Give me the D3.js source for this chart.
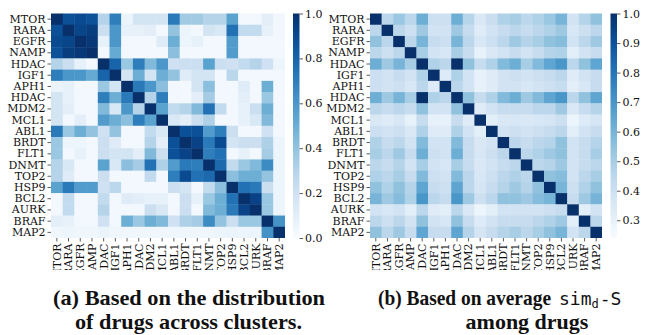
<!DOCTYPE html>
<html>
<head>
<meta charset="utf-8">
<script src="https://cdn.jsdelivr.net/npm/d3@7/dist/d3.min.js"></script>
<style>
  body { margin: 0; background: #fff; }
  svg { display: block; }
</style>
</head>
<body>
<div id="chart"></div>
<script>
// drug labels (same for rows and columns)
const drugs = ["MTOR", "RARA", "EGFR", "NAMP", "HDAC", "IGF1", "APH1", "HDAC", "MDM2", "MCL1",
  "ABL1", "BRDT", "FLT1", "DNMT", "TOP2", "HSP9", "BCL2", "AURK", "BRAF", "MAP2"];

// (a) distribution of drugs across clusters
const clusterSim = [
  [1.00, 0.88, 0.90, 0.87, 0.30, 0.70, 0.06, 0.18, 0.18, 0.18, 0.72, 0.36, 0.36, 0.30, 0.30, 0.55, 0.02, 0.02, 0.10, 0.03],
  [0.88, 1.00, 0.92, 0.95, 0.22, 0.60, 0.08, 0.08, 0.10, 0.02, 0.40, 0.05, 0.02, 0.18, 0.15, 0.75, 0.25, 0.25, 0.08, 0.03],
  [0.90, 0.92, 1.00, 0.97, 0.08, 0.60, 0.02, 0.02, 0.02, 0.12, 0.50, 0.05, 0.08, 0.02, 0.02, 0.58, 0.02, 0.02, 0.02, 0.02],
  [0.87, 0.95, 0.97, 1.00, 0.02, 0.52, 0.02, 0.02, 0.02, 0.02, 0.42, 0.02, 0.02, 0.02, 0.02, 0.58, 0.02, 0.02, 0.02, 0.02],
  [0.30, 0.22, 0.08, 0.02, 1.00, 0.80, 0.38, 0.70, 0.45, 0.60, 0.20, 0.22, 0.22, 0.55, 0.22, 0.20, 0.25, 0.30, 0.20, 0.05],
  [0.70, 0.60, 0.60, 0.52, 0.80, 1.00, 0.18, 0.50, 0.18, 0.50, 0.40, 0.12, 0.18, 0.18, 0.02, 0.28, 0.02, 0.02, 0.02, 0.02],
  [0.06, 0.08, 0.02, 0.02, 0.38, 0.18, 1.00, 0.72, 0.60, 0.42, 0.02, 0.02, 0.18, 0.42, 0.02, 0.02, 0.12, 0.02, 0.50, 0.02],
  [0.18, 0.08, 0.02, 0.02, 0.70, 0.50, 0.72, 1.00, 0.30, 0.70, 0.02, 0.02, 0.10, 0.35, 0.02, 0.02, 0.10, 0.02, 0.38, 0.02],
  [0.18, 0.10, 0.02, 0.02, 0.45, 0.15, 0.60, 0.30, 1.00, 0.55, 0.25, 0.30, 0.45, 0.75, 0.25, 0.02, 0.08, 0.22, 0.50, 0.02],
  [0.18, 0.02, 0.10, 0.02, 0.58, 0.50, 0.42, 0.70, 0.55, 1.00, 0.15, 0.10, 0.22, 0.32, 0.02, 0.02, 0.08, 0.15, 0.45, 0.02],
  [0.72, 0.38, 0.50, 0.40, 0.20, 0.40, 0.02, 0.02, 0.25, 0.15, 1.00, 0.88, 0.88, 0.58, 0.70, 0.22, 0.02, 0.02, 0.20, 0.02],
  [0.38, 0.05, 0.05, 0.02, 0.22, 0.12, 0.02, 0.02, 0.30, 0.10, 0.88, 1.00, 0.93, 0.72, 0.90, 0.18, 0.22, 0.22, 0.32, 0.05],
  [0.38, 0.02, 0.08, 0.02, 0.22, 0.18, 0.18, 0.10, 0.45, 0.22, 0.88, 0.93, 1.00, 0.70, 0.75, 0.02, 0.08, 0.02, 0.35, 0.05],
  [0.30, 0.15, 0.02, 0.02, 0.55, 0.15, 0.42, 0.35, 0.75, 0.32, 0.58, 0.72, 0.70, 1.00, 0.78, 0.25, 0.38, 0.45, 0.65, 0.05],
  [0.30, 0.12, 0.02, 0.02, 0.22, 0.02, 0.02, 0.02, 0.25, 0.02, 0.70, 0.90, 0.75, 0.78, 1.00, 0.42, 0.50, 0.50, 0.40, 0.05],
  [0.55, 0.72, 0.58, 0.58, 0.20, 0.28, 0.02, 0.02, 0.02, 0.02, 0.22, 0.18, 0.02, 0.25, 0.42, 1.00, 0.75, 0.72, 0.22, 0.05],
  [0.02, 0.25, 0.02, 0.02, 0.25, 0.02, 0.12, 0.10, 0.08, 0.08, 0.02, 0.22, 0.08, 0.38, 0.50, 0.75, 1.00, 0.93, 0.38, 0.05],
  [0.02, 0.25, 0.02, 0.02, 0.30, 0.02, 0.02, 0.02, 0.22, 0.15, 0.02, 0.22, 0.02, 0.45, 0.50, 0.72, 0.93, 1.00, 0.38, 0.05],
  [0.10, 0.08, 0.02, 0.02, 0.20, 0.02, 0.50, 0.38, 0.50, 0.45, 0.20, 0.32, 0.35, 0.65, 0.40, 0.22, 0.38, 0.38, 1.00, 0.62],
  [0.04, 0.05, 0.04, 0.04, 0.06, 0.04, 0.04, 0.04, 0.04, 0.04, 0.04, 0.04, 0.04, 0.04, 0.05, 0.06, 0.05, 0.05, 0.62, 1.00]
];

// (b) average sim_d-S among drugs
const avgSim = [
  [1.00, 0.45, 0.53, 0.45, 0.62, 0.40, 0.40, 0.62, 0.46, 0.35, 0.41, 0.48, 0.50, 0.45, 0.48, 0.53, 0.60, 0.38, 0.47, 0.55],
  [0.45, 1.00, 0.45, 0.40, 0.52, 0.38, 0.38, 0.52, 0.42, 0.33, 0.38, 0.42, 0.45, 0.42, 0.45, 0.48, 0.52, 0.36, 0.40, 0.45],
  [0.55, 0.45, 1.00, 0.45, 0.60, 0.42, 0.40, 0.60, 0.45, 0.36, 0.40, 0.45, 0.52, 0.47, 0.50, 0.55, 0.57, 0.38, 0.45, 0.52],
  [0.45, 0.40, 0.45, 1.00, 0.50, 0.38, 0.36, 0.50, 0.42, 0.30, 0.35, 0.38, 0.42, 0.38, 0.42, 0.47, 0.48, 0.32, 0.38, 0.42],
  [0.62, 0.52, 0.60, 0.50, 1.00, 0.48, 0.45, 1.00, 0.55, 0.42, 0.48, 0.58, 0.62, 0.50, 0.58, 0.65, 0.70, 0.45, 0.55, 0.65],
  [0.40, 0.38, 0.42, 0.38, 0.48, 1.00, 0.34, 0.48, 0.38, 0.30, 0.33, 0.38, 0.40, 0.38, 0.40, 0.42, 0.45, 0.33, 0.38, 0.42],
  [0.40, 0.38, 0.40, 0.36, 0.45, 0.34, 1.00, 0.45, 0.38, 0.30, 0.33, 0.38, 0.38, 0.36, 0.38, 0.40, 0.42, 0.32, 0.36, 0.42],
  [0.62, 0.52, 0.60, 0.50, 1.00, 0.48, 0.45, 1.00, 0.55, 0.42, 0.48, 0.58, 0.62, 0.52, 0.58, 0.65, 0.70, 0.45, 0.55, 0.65],
  [0.45, 0.42, 0.45, 0.42, 0.55, 0.38, 0.38, 0.55, 1.00, 0.33, 0.38, 0.42, 0.42, 0.42, 0.45, 0.45, 0.52, 0.35, 0.42, 0.47],
  [0.35, 0.33, 0.36, 0.30, 0.42, 0.30, 0.30, 0.42, 0.33, 1.00, 0.32, 0.35, 0.36, 0.35, 0.36, 0.37, 0.40, 0.28, 0.34, 0.37],
  [0.40, 0.38, 0.40, 0.35, 0.48, 0.33, 0.33, 0.48, 0.38, 0.32, 1.00, 0.38, 0.40, 0.38, 0.40, 0.42, 0.45, 0.32, 0.38, 0.42],
  [0.48, 0.42, 0.45, 0.38, 0.58, 0.38, 0.38, 0.58, 0.42, 0.35, 0.38, 1.00, 0.45, 0.42, 0.45, 0.47, 0.55, 0.38, 0.42, 0.47],
  [0.50, 0.45, 0.52, 0.42, 0.62, 0.40, 0.38, 0.62, 0.42, 0.36, 0.40, 0.45, 1.00, 0.45, 0.48, 0.52, 0.55, 0.38, 0.42, 0.50],
  [0.45, 0.42, 0.47, 0.38, 0.50, 0.38, 0.36, 0.50, 0.42, 0.35, 0.38, 0.42, 0.45, 1.00, 0.45, 0.47, 0.52, 0.38, 0.42, 0.45],
  [0.48, 0.45, 0.50, 0.42, 0.58, 0.40, 0.38, 0.58, 0.45, 0.36, 0.40, 0.45, 0.48, 0.45, 1.00, 0.55, 0.57, 0.38, 0.45, 0.50],
  [0.55, 0.48, 0.55, 0.47, 0.65, 0.42, 0.40, 0.65, 0.45, 0.37, 0.42, 0.47, 0.52, 0.47, 0.55, 1.00, 0.60, 0.40, 0.48, 0.55],
  [0.60, 0.52, 0.57, 0.48, 0.70, 0.45, 0.42, 0.70, 0.52, 0.40, 0.45, 0.55, 0.55, 0.52, 0.57, 0.60, 1.00, 0.42, 0.52, 0.60],
  [0.38, 0.36, 0.38, 0.32, 0.45, 0.33, 0.32, 0.45, 0.35, 0.28, 0.32, 0.38, 0.38, 0.38, 0.38, 0.40, 0.42, 1.00, 0.32, 0.38],
  [0.45, 0.40, 0.45, 0.38, 0.55, 0.38, 0.36, 0.55, 0.42, 0.34, 0.38, 0.42, 0.42, 0.42, 0.45, 0.48, 0.52, 0.32, 1.00, 0.45],
  [0.55, 0.45, 0.52, 0.42, 0.65, 0.42, 0.42, 0.65, 0.47, 0.37, 0.42, 0.47, 0.50, 0.45, 0.50, 0.55, 0.60, 0.38, 0.45, 1.00]
];

const clusterTicks = [0.0, 0.2, 0.4, 0.6, 0.8, 1.0];
const avgTicks = [0.3, 0.4, 0.5, 0.6, 0.7, 0.8, 0.9, 1.0];

const width = 645, height = 335;
const labelFont = "'DejaVu Serif', serif";

const svg = d3.select("#chart").append("svg")
  .attr("width", width)
  .attr("height", height)
  .attr("xmlns", "http://www.w3.org/2000/svg");

const defs = svg.append("defs");

// draw one heatmap + colorbar
function drawPanel(id, values, box, domain, ticks, cbar) {
  const idx = d3.range(drugs.length);
  const x = d3.scaleBand().domain(idx).range([box.x0, box.x1]);
  const y = d3.scaleBand().domain(idx).range([box.y0, box.y1]);
  const color = d3.scaleSequential(d3.interpolateBlues).domain(domain).clamp(true);

  const g = svg.append("g");

  const cells = [];
  values.forEach((row, i) => row.forEach((v, j) => cells.push({ i, j, v })));

  g.selectAll("rect.cell")
    .data(cells)
    .enter().append("rect")
    .attr("class", "cell")
    .attr("x", d => x(d.j))
    .attr("y", d => y(d.i))
    .attr("width", d => x.bandwidth() + (d.j < drugs.length - 1 ? 0.4 : 0))
    .attr("height", d => y.bandwidth() + (d.i < drugs.length - 1 ? 0.4 : 0))
    .attr("fill", d => color(d.v));

  // y axis
  const yAxis = g.append("g")
    .attr("transform", `translate(${box.x0},0)`)
    .call(d3.axisLeft(y).tickSize(3.5).tickPadding(2).tickFormat(i => drugs[i]));
  yAxis.select(".domain").remove();
  yAxis.selectAll("text").style("font-family", labelFont).style("font-size", "11px").attr("fill", "#111");
  yAxis.selectAll("line").attr("stroke", "#333").attr("stroke-width", 0.8);

  // x axis, labels cut off at the bottom like the original figure
  // (clip rect is in the axis group's local coordinates)
  defs.append("clipPath").attr("id", "clip-" + id)
    .append("rect")
    .attr("x", box.x0 - 10).attr("y", 0)
    .attr("width", box.x1 - box.x0 + 20).attr("height", 32);

  const xAxis = g.append("g")
    .attr("clip-path", `url(#clip-${id})`)
    .attr("transform", `translate(0,${box.y1})`)
    .call(d3.axisBottom(x).tickSize(3.5).tickPadding(2).tickFormat(i => drugs[i]));
  xAxis.select(".domain").remove();
  xAxis.selectAll("line").attr("stroke", "#333").attr("stroke-width", 0.8);
  xAxis.selectAll("text")
    .style("font-family", labelFont).style("font-size", "11px").attr("fill", "#111")
    .attr("text-anchor", "end")
    .attr("transform", "rotate(-90)")
    .attr("x", -5.5)
    .attr("y", 0)
    .attr("dy", "0.35em");

  // colorbar
  const gradId = "grad-" + id;
  const grad = defs.append("linearGradient").attr("id", gradId)
    .attr("x1", 0).attr("y1", 1).attr("x2", 0).attr("y2", 0);
  d3.range(0, 1.0001, 0.05).forEach(t => {
    grad.append("stop").attr("offset", t).attr("stop-color", d3.interpolateBlues(t));
  });

  const cy = d3.scaleLinear().domain(domain).range([box.y1, box.y0]);
  g.append("rect")
    .attr("x", cbar.x)
    .attr("y", box.y0)
    .attr("width", cbar.w)
    .attr("height", box.y1 - box.y0)
    .attr("fill", `url(#${gradId})`);

  const cAxis = g.append("g")
    .attr("transform", `translate(${cbar.x + cbar.w},0)`)
    .call(d3.axisRight(cy).tickValues(ticks).tickSize(3.5).tickPadding(2).tickFormat(d3.format(".1f")));
  cAxis.select(".domain").remove();
  cAxis.selectAll("line").attr("stroke", "#333").attr("stroke-width", 0.8);
  cAxis.selectAll("text").style("font-family", labelFont).style("font-size", "11px").attr("fill", "#111");
}

drawPanel("a", clusterSim, { x0: 51, x1: 285, y0: 13.5, y1: 238 }, [0, 1], clusterTicks, { x: 293, w: 6.5 });
drawPanel("b", avgSim, { x0: 370, x1: 602, y0: 13.5, y1: 238 }, [0.24, 1], avgTicks, { x: 610.5, w: 6.5 });

// captions
const capFont = "'Liberation Serif', 'Times New Roman', serif";
const monoFont = "'DejaVu Sans Mono', monospace";
const cap = svg.append("g")
  .style("font-family", capFont)
  .style("font-weight", "bold")
  .style("font-size", "22px")
  .attr("fill", "#111");

cap.append("text").attr("x", 53).attr("y", 305)
  .attr("textLength", 272).attr("lengthAdjust", "spacingAndGlyphs")
  .text("(a) Based on the distribution");
cap.append("text").attr("x", 75).attr("y", 329)
  .attr("textLength", 227).attr("lengthAdjust", "spacingAndGlyphs")
  .text("of drugs across clusters.");

cap.append("text").attr("x", 378).attr("y", 305)
  .attr("textLength", 173).attr("lengthAdjust", "spacingAndGlyphs")
  .text("(b) Based on average");

const simText = cap.append("text").attr("x", 559).attr("y", 305)
  .style("font-family", monoFont).style("font-weight", "normal").style("font-size", "18px");
simText.append("tspan").text("sim");
simText.append("tspan").style("font-size", "12px").attr("dy", 3).text("d");
simText.append("tspan").attr("dy", -3).attr("dx", 1).text("-S");

cap.append("text").attr("x", 527).attr("y", 329)
  .attr("text-anchor", "middle")
  .text("among drugs");
</script>
</body>
</html>
